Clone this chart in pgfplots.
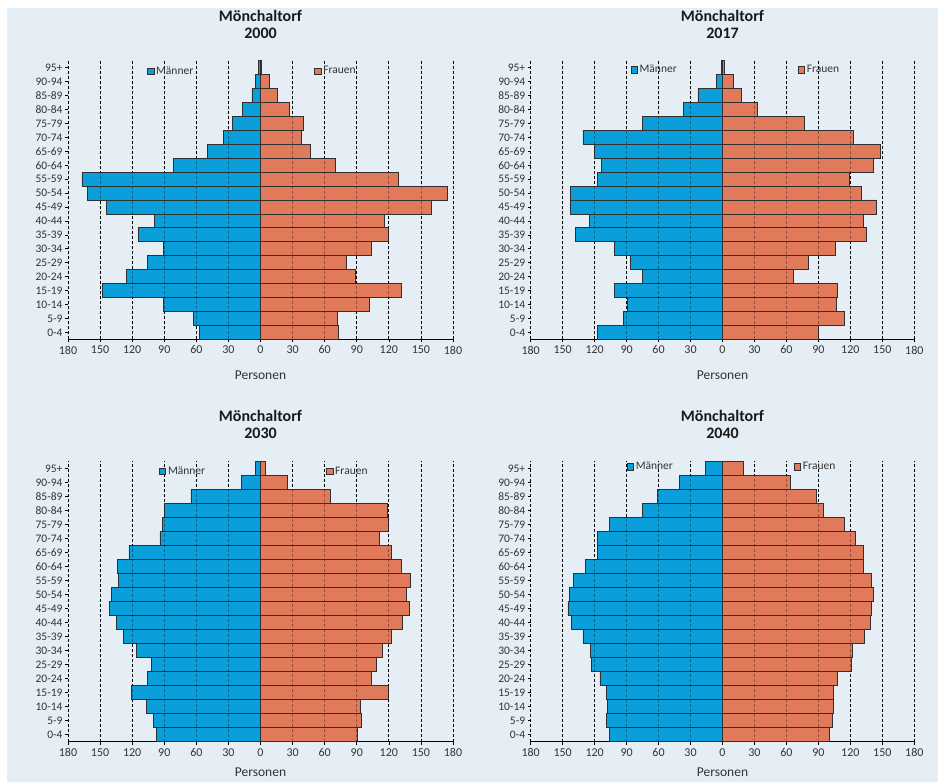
\documentclass[border=0pt]{standalone}
\usepackage{pgfplots}
\pgfplotsset{compat=1.18}
\usepackage{pgfplotstable}
\usepackage{fontspec}
\setmainfont{Carlito}
\definecolor{bgc}{HTML}{E6EEF5}
\definecolor{men}{HTML}{0A9EDB}
\definecolor{wom}{HTML}{E07A5B}
\definecolor{edge}{HTML}{303030}
\definecolor{txt}{HTML}{333333}

% y: age group index (0 = 0-4 ... 19 = 95+), m: Maenner (negative), w: Frauen
\pgfplotstableread{
y m w
0 -57 73
1 -63 72
2 -91 102
3 -148 132
4 -125 89
5 -106 80
6 -91 104
7 -114 120
8 -99 116
9 -144 160
10 -162 175
11 -167 129
12 -81 70
13 -50 47
14 -35 38
15 -26 40
16 -17 27
17 -8 16
18 -5 8
19 -2 1
}\tA
\pgfplotstableread{
y m w
0 -117 90
1 -93 114
2 -89 107
3 -101 108
4 -75 67
5 -86 81
6 -101 106
7 -138 135
8 -125 132
9 -143 144
10 -143 130
11 -117 119
12 -114 142
13 -120 148
14 -131 123
15 -75 77
16 -37 33
17 -23 18
18 -6 10
19 -1 2
}\tB
\pgfplotstableread{
y m w
0 -97 91
1 -100 94
2 -107 93
3 -121 120
4 -106 104
5 -102 108
6 -116 114
7 -128 122
8 -135 133
9 -141 139
10 -139 136
11 -133 140
12 -134 132
13 -123 122
14 -94 111
15 -92 120
16 -90 119
17 -65 65
18 -18 25
19 -5 5
}\tC
\pgfplotstableread{
y m w
0 -106 100
1 -109 103
2 -108 104
3 -109 104
4 -115 108
5 -123 121
6 -124 122
7 -131 133
8 -142 139
9 -145 140
10 -144 142
11 -140 140
12 -129 132
13 -117 132
14 -117 125
15 -106 114
16 -75 95
17 -61 88
18 -40 64
19 -16 20
}\tD

\pgfplotsset{
  pyr/.style={
    scale only axis,
    anchor=south west,
    xbar, bar width=1, bar shift=0pt,
    xmin=-180, xmax=180, ymin=-0.5, ymax=19.5,
    axis x line*=bottom, axis y line*=left,
    y axis line style={draw=none},
    x axis line style={black, line width=0.8pt},
    xtick={-180,-150,...,180},
    xticklabel={\pgfmathparse{abs(\tick)}\pgfmathprintnumber{\pgfmathresult}},
    /pgf/number format/assume math mode=true,
    ytick={0,...,19},
    yticklabels={0-4,5-9,10-14,15-19,20-24,25-29,30-34,35-39,40-44,45-49,50-54,55-59,60-64,65-69,70-74,75-79,80-84,85-89,90-94,95+},
    tick align=outside, major tick length=3pt,
    tick style={black, line width=0.6pt},
    ticklabel style={font=\fontsize{12}{14}\selectfont, text=txt},
    yticklabel style={font=\fontsize{11.5}{13}\selectfont, xshift=1pt},
    xmajorgrids,
    major grid style={black, dash pattern=on 3pt off 2pt, line width=0.7pt},
    xlabel={Personen},
    xlabel style={at={(0.5,0)}, anchor=center, yshift=-36pt, font=\fontsize{13.5}{15}\selectfont, text=txt},
    title style={at={(0.5,1)}, anchor=center, yshift=30.7pt, align=center, font=\bfseries\fontsize{16}{17}\selectfont, text=black!90},
    legend columns=2,
    legend image code/.code={\draw[#1, line width=0.6pt] (0pt,-3.2pt) rectangle (6.4pt,3.2pt);},
    legend style={draw=none, fill=none, inner sep=0pt, anchor=west,
      font=\fontsize{11.5}{13}\selectfont, text=txt,
      /tikz/every even column/.append style={column sep=119pt}},
  },
  men/.style={fill=men, draw=edge, line width=0.8pt},
  wom/.style={fill=wom, draw=edge, line width=0.8pt},
}

\newcommand{\overgrid}{%
  \pgfplotsinvokeforeach{-150,-120,-90,-60,-30,30,60,90,120,150}{%
    \draw[black, opacity=0.35, dash pattern=on 3pt off 2pt, line width=0.7pt] (axis cs:##1,-0.5) -- (axis cs:##1,19.5);}%
}

\begin{document}
\begin{tikzpicture}
\useasboundingbox (0,0) rectangle (938pt,782pt);
\fill[white] (0,0) rectangle (938pt,782pt);
\fill[bgc] (7pt,0) rectangle (938pt,774pt);

\begin{axis}[pyr, at={(68pt,442.7pt)}, width=385pt, height=278.6pt,
  title={Mönchaltorf\\2000},
  legend style={at={(0.205,0.963)}}]
\addplot[men] table[x=m, y=y] {\tA};
\addplot[wom] table[x=w, y=y] {\tA};
\legend{Männer, Frauen}
\overgrid
\end{axis}

\begin{axis}[pyr, at={(530.7pt,442.7pt)}, width=383.6pt, height=278.6pt,
  title={Mönchaltorf\\2017},
  legend style={at={(0.26,0.967)}}]
\addplot[men] table[x=m, y=y] {\tB};
\addplot[wom] table[x=w, y=y] {\tB};
\legend{Männer, Frauen}
\overgrid
\end{axis}

\begin{axis}[pyr, at={(68pt,40.3pt)}, width=385pt, height=280.4pt,
  title={Mönchaltorf\\2030},
  xlabel style={yshift=5pt},
  legend style={at={(0.236,0.965)}}]
\addplot[men] table[x=m, y=y] {\tC};
\addplot[wom] table[x=w, y=y] {\tC};
\legend{Männer, Frauen}
\overgrid
\end{axis}

\begin{axis}[pyr, at={(530.7pt,40.3pt)}, width=383.6pt, height=280.4pt,
  title={Mönchaltorf\\2040},
  xlabel style={yshift=5pt},
  legend style={at={(0.25,0.98)}}]
\addplot[men] table[x=m, y=y] {\tD};
\addplot[wom] table[x=w, y=y] {\tD};
\legend{Männer, Frauen}
\overgrid
\end{axis}
\end{tikzpicture}
\end{document}
